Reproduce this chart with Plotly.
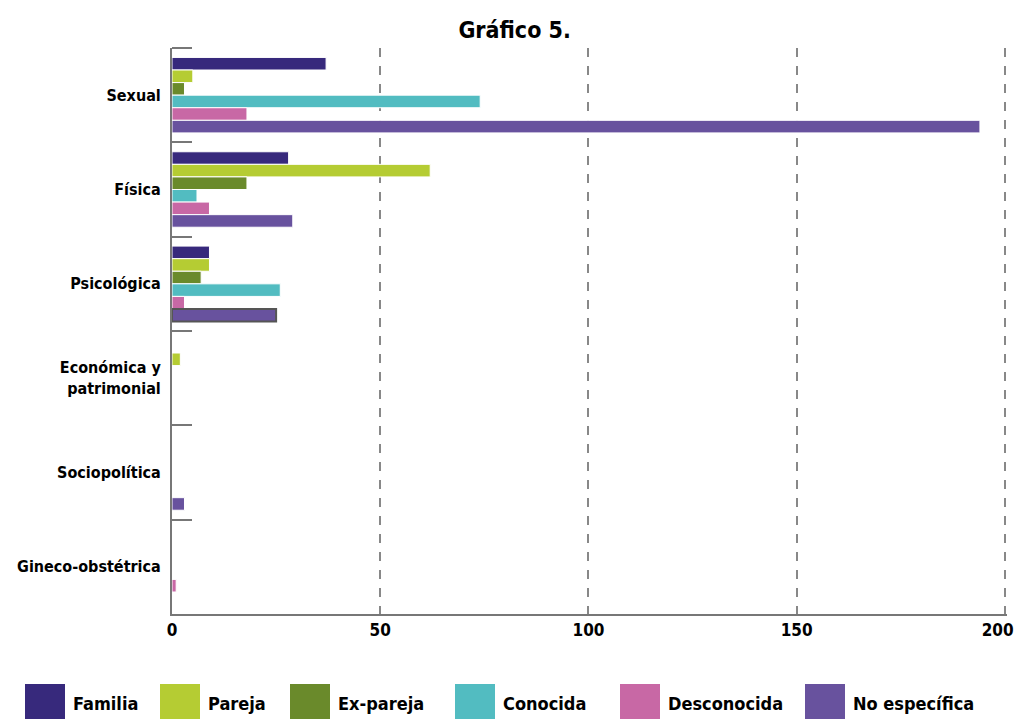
import plotly.graph_objects as go

categories = ["Sexual", "Física", "Psicológica", "Económica y<br>patrimonial", "Sociopolítica", "Gineco-obstétrica"]
series_names = ["Familia", "Pareja", "Ex-pareja", "Conocida", "Desconocida", "No específica"]
familia = [37, 28, 9, 0, 0, 0]
pareja = [5, 62, 9, 2, 0, 0]
ex_pareja = [3, 18, 7, 0, 0, 0]
conocida = [74, 6, 26, 0, 0, 0]
desconocida = [18, 9, 3, 0, 0, 1]
no_especifica = [194, 29, 25, 0, 3, 0]
x_ticks = [0, 50, 100, 150, 200]

series_values = [familia, pareja, ex_pareja, conocida, desconocida, no_especifica]
colors = ["#37297C", "#B5CC33", "#6A8A2B", "#52BCC1", "#C868A5", "#68529E"]

FONT = "DejaVu Sans Condensed, Liberation Sans Narrow, sans-serif"

fig = go.Figure()
for name, vals, col in zip(series_names, series_values, colors):
    lw = [1] * len(vals)
    lc = ["white"] * len(vals)
    if name == "No específica":
        lw[2] = 2
        lc[2] = "#555555"
    fig.add_trace(go.Bar(
        y=categories, x=vals, name=name, orientation="h",
        marker=dict(color=col, line=dict(width=lw, color=lc)),
        showlegend=False,
    ))

# custom legend with large swatches
plot_l, plot_r, plot_t, plot_b = 172, 1007, 48, 614
W, H = plot_r - plot_l, plot_b - plot_t
def px_x(p):
    return (p - plot_l) / W
def px_y(p):
    return (plot_b - p) / H

swatch_x = [25, 160, 290, 455, 620, 805]
for name, col, sx in zip(series_names, colors, swatch_x):
    fig.add_shape(type="rect", xref="paper", yref="paper",
                  x0=px_x(sx), x1=px_x(sx + 40), y0=px_y(684), y1=px_y(722),
                  fillcolor=col, line=dict(width=0))
    fig.add_annotation(xref="paper", yref="paper", x=px_x(sx + 46), y=px_y(703),
                       text="<b>" + name + "</b>", showarrow=False, xanchor="left",
                       yanchor="middle", font=dict(size=18, color="black", family=FONT))

# top boundary tick on the category axis
fig.add_shape(type="line", xref="paper", yref="paper", x0=0, x1=px_x(plot_l + 20),
              y0=1, y1=1, line=dict(color="#777777", width=2))

x_ticktext = ["<b>%d</b>" % v for v in x_ticks]
x_ticktext[-1] = x_ticktext[-1] + "&nbsp;&nbsp;&nbsp;"  # keep last label inside the page

fig.update_layout(
    width=1017, height=719,
    barmode="group", bargap=0.2, bargroupgap=0,
    plot_bgcolor="white", paper_bgcolor="white",
    margin=dict(l=plot_l, r=1017 - plot_r, t=plot_t, b=719 - plot_b, autoexpand=False),
    title=dict(text="<b>Gráfico 5.</b>", x=0.506, xanchor="center", y=0.958, yanchor="middle",
               font=dict(size=23, color="black", family=FONT)),
    font=dict(family=FONT, color="black"),
    xaxis=dict(range=[0, 200.5], tickvals=x_ticks, ticktext=x_ticktext,
               showgrid=True, gridcolor="#888888", griddash="dash", gridwidth=2,
               showline=True, linecolor="#777777", linewidth=2, zeroline=False,
               ticks="", tickfont=dict(size=17, color="black"), fixedrange=True,
               automargin=False, ticklabeloverflow="allow"),
    yaxis=dict(range=[5.5, -0.5], tickvals=categories,
               ticktext=["<b>" + c + "</b>" for c in categories],
               showline=True, linecolor="#777777", linewidth=2,
               ticks="inside", ticklen=20, tickwidth=2, tickcolor="#777777",
               tickson="boundaries", showgrid=False, automargin=False,
               tickfont=dict(size=16, color="black"), ticklabelstandoff=6),
)

fig.write_html("out.html", config={"displayModeBar": False},
               post_script="document.body.style.margin='0';document.body.style.overflow='hidden';")
